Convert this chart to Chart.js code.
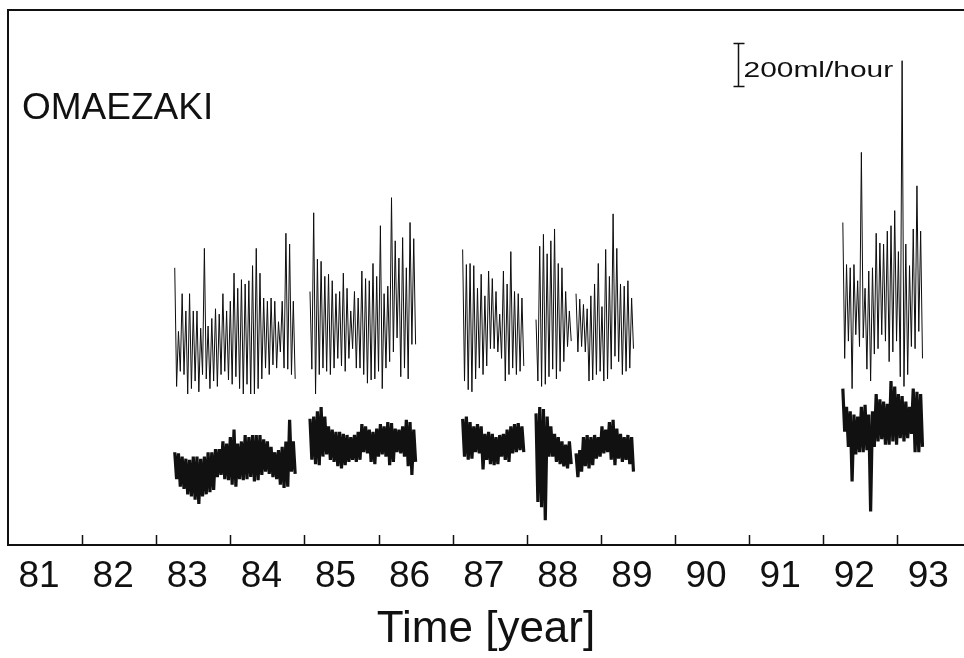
<!DOCTYPE html>
<html>
<head>
<meta charset="utf-8">
<script src="https://cdn.jsdelivr.net/npm/chart.js@4.4.1/dist/chart.umd.min.js"></script>
<style>
  html, body { margin: 0; padding: 0; background: #fff; }
  canvas { display: block; }
</style>
</head>
<body>
<canvas id="chart" width="964" height="658"></canvas>
<script>
// year labels sit in the middle of each year, tick marks on year boundaries
const yearLabels = ['81', '82', '83', '84', '85', '86', '87', '88', '89', '90', '91', '92', '93']
const labelYears = [81.5, 82.5, 83.5, 84.5, 85.5, 86.5, 87.5, 88.5, 89.5, 90.5, 91.5, 92.5, 93.5]
const tickYears  = [82, 83, 84, 85, 86, 87, 88, 89, 90, 91, 92, 93]

// observation segments (start year), values sampled every STEP years
const STEP = 0.05
const segStart = [83.25, 85.075, 87.135, 88.125, 88.665, 92.265]

// upper trace: max / min per sample, ml/hour
const upperHigh = [
  [1285, 990, 1165, 1085, 1165, 1085, 1085, 1005, 1375, 1015, 1050, 1095, 1070, 1165, 1085, 1130, 1260, 1190, 1230, 1210, 1225, 1295, 1375, 1260, 1145, 1130, 1145, 1130, 1035, 1130, 1445, 1395, 1130],
  [1175, 1540, 1325, 1315, 1245, 1255, 1225, 1165, 1175, 1260, 1190, 1085, 1175, 1145, 1270, 1235, 1225, 1305, 1245, 1480, 1165, 1200, 1610, 1410, 1330, 1425, 1285, 1495, 1420],
  [1370, 1300, 1305, 1295, 1190, 1255, 1155, 1270, 1235, 1175, 1070, 1270, 1210, 1360, 1175, 1165, 1145],
  [1045, 1385, 1440, 1350, 1410, 1465, 1305, 1285, 1175, 1085],
  [1165, 1140, 1115, 1095, 1155, 1210, 1305, 1105, 1370, 1245, 1535, 1375, 1210, 1200, 1225, 1145],
  [1495, 1300, 1285, 1300, 1225, 1820, 1190, 1270, 1285, 1445, 1400, 1395, 1455, 1480, 1550, 1360, 2245, 1395, 1295, 1465, 1665, 1455]
]
const upperLow = [
  [735, 805, 790, 700, 725, 760, 710, 790, 770, 725, 760, 735, 790, 805, 765, 745, 780, 725, 700, 745, 700, 700, 725, 770, 820, 790, 835, 820, 895, 820, 815, 790, 770],
  [815, 700, 790, 820, 805, 790, 820, 865, 830, 805, 865, 910, 820, 820, 790, 750, 765, 770, 805, 725, 820, 850, 895, 960, 780, 820, 770, 930, 930],
  [760, 720, 710, 770, 820, 790, 830, 910, 910, 895, 865, 760, 790, 820, 790, 805, 830],
  [760, 735, 745, 780, 815, 770, 805, 850, 920, 945],
  [895, 920, 895, 760, 765, 790, 805, 760, 770, 815, 875, 850, 790, 805, 820, 910],
  [865, 945, 725, 975, 920, 960, 815, 760, 885, 910, 975, 945, 850, 895, 945, 780, 735, 790, 920, 910, 990, 865]
]

// lower trace
const lowerHigh = [
  [430, 425, 410, 400, 395, 410, 410, 400, 410, 430, 430, 445, 445, 480, 470, 500, 535, 470, 480, 510, 500, 510, 510, 510, 490, 480, 455, 430, 440, 455, 480, 580, 480],
  [585, 595, 620, 640, 595, 550, 535, 525, 525, 515, 510, 500, 510, 525, 560, 550, 535, 525, 540, 560, 550, 570, 565, 540, 535, 550, 580, 570, 535],
  [585, 595, 570, 550, 560, 550, 515, 525, 515, 500, 510, 515, 535, 550, 560, 565, 550],
  [610, 640, 630, 595, 550, 515, 500, 480, 465, 480],
  [425, 440, 500, 510, 500, 510, 500, 550, 535, 570, 580, 540, 515, 500, 510, 500],
  [725, 640, 620, 605, 595, 640, 650, 605, 620, 700, 675, 665, 655, 760, 735, 700, 690, 665, 640, 725, 710, 700]
]
const lowerLow = [
  [305, 270, 260, 235, 225, 210, 190, 225, 235, 245, 255, 315, 325, 305, 300, 280, 270, 305, 300, 305, 315, 295, 300, 325, 340, 330, 315, 305, 280, 265, 270, 340, 330],
  [395, 375, 370, 410, 420, 395, 385, 365, 355, 370, 385, 395, 385, 395, 430, 425, 385, 375, 410, 420, 410, 370, 385, 430, 425, 410, 365, 325, 385],
  [410, 395, 400, 430, 425, 350, 395, 375, 370, 375, 410, 395, 385, 425, 430, 440, 430],
  [200, 175, 115, 410, 410, 385, 375, 365, 355, 375],
  [315, 340, 365, 355, 370, 400, 410, 425, 430, 395, 370, 400, 385, 395, 375, 340],
  [525, 455, 295, 420, 430, 430, 440, 155, 455, 480, 490, 465, 465, 480, 465, 495, 480, 495, 515, 430, 430, 455]
]

// scale bar: 200 ml/hour, drawn at this year / level
const scaleBar = { year: 90.85, base: 2125, size: 200, text: '200ml/hour' }

const FONT = "'Liberation Sans', Arial, Helvetica, sans-serif"
const INK = '#111'

// hi/lo per sample -> near-vertical zigzag, null between segments
function trace(hi, lo) {
  const pts = []
  hi.forEach((seg, s) => {
    seg.forEach((h, i) => {
      const t = segStart[s] + i * STEP
      pts.push({ x: t, y: h })
      pts.push({ x: t + STEP / 2, y: lo[s][i] })
    })
    pts.push({ x: segStart[s] + seg.length * STEP, y: null })
  })
  return pts
}

const framePlugin = {
  id: 'frame',
  beforeDatasetsDraw(chart) {
    const { ctx, chartArea: a, scales: { x } } = chart
    ctx.save()
    ctx.strokeStyle = INK
    ctx.lineWidth = 2
    ctx.beginPath()
    ctx.moveTo(a.right, a.top)
    ctx.lineTo(a.left, a.top)
    ctx.lineTo(a.left, a.bottom)
    ctx.lineTo(a.right, a.bottom)
    ctx.stroke()
    ctx.lineWidth = 1.5
    ctx.beginPath()
    tickYears.forEach(v => {
      const px = Math.round(x.getPixelForValue(v)) + 0.5
      ctx.moveTo(px, a.bottom)
      ctx.lineTo(px, a.bottom - 10)
    })
    ctx.stroke()
    ctx.restore()
  }
}

const notesPlugin = {
  id: 'notes',
  afterDraw(chart) {
    const { ctx, chartArea: a, scales: { x, y } } = chart
    ctx.save()
    ctx.fillStyle = INK
    ctx.font = `37px ${FONT}`
    ctx.textBaseline = 'alphabetic'
    ctx.fillText('OMAEZAKI', a.left + 14, a.top + 109)

    // scale bar
    const bx = Math.round(x.getPixelForValue(scaleBar.year)) + 0.5
    const y0 = y.getPixelForValue(scaleBar.base)
    const y1 = y.getPixelForValue(scaleBar.base + scaleBar.size)
    ctx.strokeStyle = INK
    ctx.lineWidth = 1.5
    ctx.beginPath()
    ctx.moveTo(bx, y0); ctx.lineTo(bx, y1)
    ctx.moveTo(bx - 5, y0); ctx.lineTo(bx + 6, y0)
    ctx.moveTo(bx - 5, y1); ctx.lineTo(bx + 6, y1)
    ctx.stroke()

    ctx.font = `22px ${FONT}`
    ctx.translate(bx + 5, (y0 + y1) / 2 + 12)
    ctx.scale(1.36, 1)
    ctx.fillText(scaleBar.text, 0, 0)
    ctx.restore()
  }
}

new Chart(document.getElementById('chart'), {
  type: 'line',
  data: {
    datasets: [
      {
        label: 'upper',
        data: trace(upperHigh, upperLow),
        borderColor: '#0d0d0d',
        borderWidth: 1,
        pointRadius: 0,
        tension: 0,
        spanGaps: false
      },
      {
        label: 'lower',
        data: trace(lowerHigh, lowerLow),
        borderColor: INK,
        borderWidth: 3.2,
        pointRadius: 0,
        tension: 0,
        spanGaps: false
      }
    ]
  },
  options: {
    responsive: false,
    animation: false,
    events: [],
    layout: { padding: { left: 8, top: 10, right: 0, bottom: 6 } },
    plugins: { legend: { display: false }, tooltip: { enabled: false } },
    scales: {
      x: {
        type: 'linear',
        min: 81,
        max: 93.9,
        border: { display: false },
        grid: { display: false, drawTicks: false },
        afterBuildTicks: axis => { axis.ticks = labelYears.map(v => ({ value: v })) },
        afterFit: axis => { axis.paddingLeft = 0; axis.paddingRight = 0 },
        ticks: {
          autoSkip: false,
          maxRotation: 0,
          padding: 13,
          labelOffset: -6,
          color: INK,
          font: { family: FONT, size: 37, lineHeight: 1 },
          callback: (v, i) => yearLabels[i]
        },
        title: {
          display: true,
          text: 'Time [year]',
          color: INK,
          font: { family: FONT, size: 44, lineHeight: 1 },
          padding: { top: 0, bottom: 0 }
        }
      },
      y: {
        display: false,
        min: 0,
        max: 2480
      }
    }
  },
  plugins: [framePlugin, notesPlugin]
})
</script>
</body>
</html>
